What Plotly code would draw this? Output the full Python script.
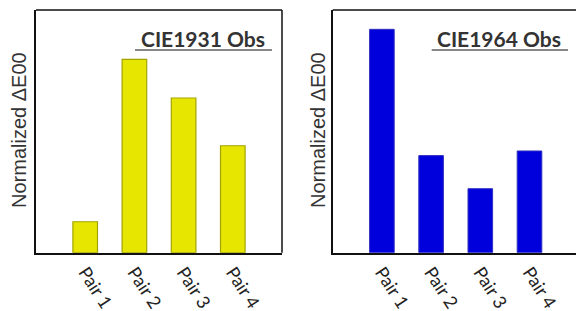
import plotly.graph_objects as go

categories = ["Pair 1", "Pair 2", "Pair 3", "Pair 4"]
cie1931_values = [0.16, 1.0, 0.80, 0.553]
cie1964_values = [1.155, 0.502, 0.331, 0.526]
panel_titles = ["CIE1931 Obs", "CIE1964 Obs"]
y_title = "Normalized ΔE00"

W, H = 576, 311
fig = go.Figure()

fig.add_trace(go.Bar(x=categories, y=cie1931_values, xaxis="x", yaxis="y",
                     width=0.5, marker=dict(color="#E6E600", line=dict(color="#A3A300", width=1.2))))
fig.add_trace(go.Bar(x=categories, y=cie1964_values, xaxis="x2", yaxis="y2",
                     width=0.5, marker=dict(color="#0000DD", line=dict(color="#3030C0", width=1))))

ydom = [58.3 / H, 301 / H]
xd1 = [36 / W, 282 / W]
xd2 = [332.7 / W, 1.0]
tickfont = dict(family="Lato", size=18, color="#222")
common_x = dict(type="category", showgrid=False, zeroline=False, showline=True, automargin=False,
                linecolor="#111", linewidth=2, ticks="", tickangle=57, tickfont=tickfont)
common_y = dict(range=[0, 1.255], showgrid=False, zeroline=False, showticklabels=False, automargin=False,
                showline=True, linecolor="#111", linewidth=2, ticks="", domain=ydom)

fig.update_layout(
    width=W, height=H, margin=dict(l=0, r=0, t=0, b=0, autoexpand=False),
    paper_bgcolor="white", plot_bgcolor="white", showlegend=False,
    xaxis=dict(domain=xd1, range=[-1, 4], anchor="y", **common_x),
    yaxis=dict(anchor="x", **common_y),
    xaxis2=dict(domain=xd2, range=[-1, 3.945], anchor="y2", **common_x),
    yaxis2=dict(anchor="x2", **common_y),
)

# top/right borders
fig.add_shape(type="line", xref="x domain", yref="y domain", x0=0, x1=1, y0=1, y1=1,
              line=dict(color="#111", width=1.5))
fig.add_shape(type="line", xref="x domain", yref="y domain", x0=1, x1=1, y0=0, y1=1,
              line=dict(color="#111", width=1.5))
fig.add_shape(type="line", xref="x2 domain", yref="y2 domain", x0=0, x1=1, y0=1, y1=1,
              line=dict(color="#111", width=1.5))

# panel titles with underline
for (cx, x0, x1), t in zip([(202.5, 135, 272), (499, 431.7, 568)], panel_titles):
    fig.add_annotation(xref="paper", yref="paper", x=cx / W, y=1 - 38 / H, text="<b>" + t + "</b>",
                       showarrow=False, xanchor="center", yanchor="middle",
                       font=dict(family="Lato", size=21, color="#333"))
    fig.add_shape(type="line", xref="paper", yref="paper", x0=x0 / W, x1=x1 / W,
                  y0=1 - 50 / H, y1=1 - 50 / H, line=dict(color="#888", width=2))

for cx in [19, 318]:
    fig.add_annotation(xref="paper", yref="paper", x=cx / W, y=1 - 130 / H, text=y_title,
                       textangle=-90, showarrow=False, xanchor="center", yanchor="middle",
                       font=dict(family="Liberation Sans", size=20, color="#333"))

fig.write_html("out.html", config={"displayModeBar": False},
               post_script="document.body.style.margin='0';document.body.style.overflow='hidden';")
